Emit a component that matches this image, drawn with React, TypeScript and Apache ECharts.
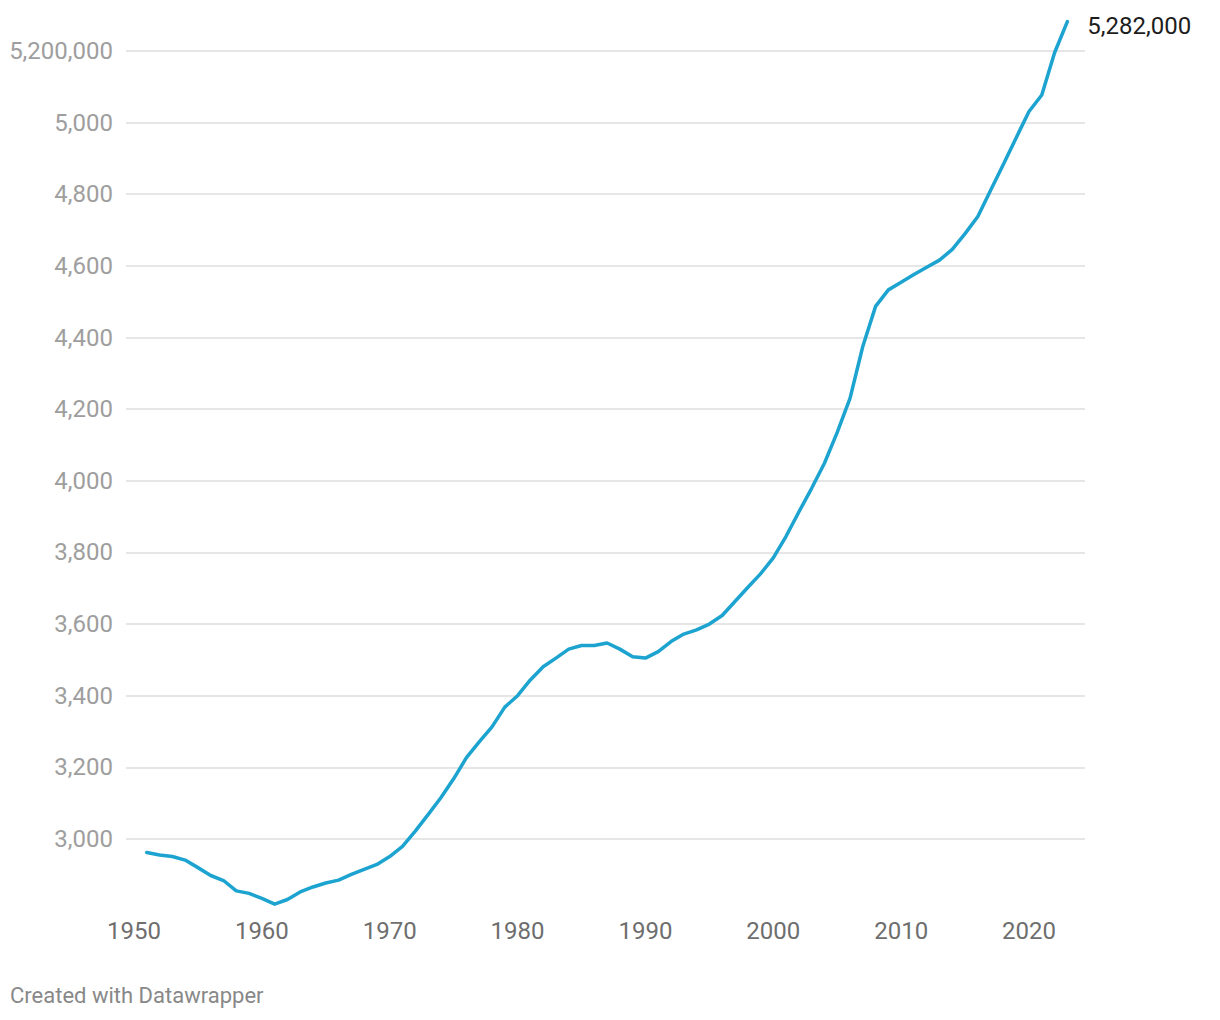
import React, { useEffect, useRef } from "react";
import * as echarts from "echarts";

const years: number[] = [
  1951, 1952, 1953, 1954, 1955, 1956, 1957, 1958, 1959, 1960,
  1961, 1962, 1963, 1964, 1965, 1966, 1967, 1968, 1969, 1970,
  1971, 1972, 1973, 1974, 1975, 1976, 1977, 1978, 1979, 1980,
  1981, 1982, 1983, 1984, 1985, 1986, 1987, 1988, 1989, 1990,
  1991, 1992, 1993, 1994, 1995, 1996, 1997, 1998, 1999, 2000,
  2001, 2002, 2003, 2004, 2005, 2006, 2007, 2008, 2009, 2010,
  2011, 2012, 2013, 2014, 2015, 2016, 2017, 2018, 2019, 2020,
  2021, 2022, 2023,
];

// population in thousands
const population: number[] = [
  2962, 2955, 2951, 2941, 2920, 2898, 2884, 2855, 2848, 2834,
  2818, 2831, 2852, 2866, 2877, 2885, 2901, 2915, 2929, 2951,
  2979, 3022, 3068, 3115, 3168, 3227, 3271, 3313, 3368, 3400,
  3444, 3481, 3505, 3530, 3540, 3540, 3547, 3530, 3509, 3505,
  3523, 3551, 3572, 3584, 3600, 3624, 3663, 3702, 3740, 3785,
  3845, 3913, 3979, 4049, 4135, 4230, 4375, 4487, 4533, 4554,
  4576, 4596, 4616, 4646, 4690, 4738, 4811, 4884, 4958, 5031,
  5077, 5195, 5282,
];

const endLabelText = "5,282,000";
const topTickLabel = "5,200,000";
const footerText = "Created with Datawrapper";

const FONT = "Roboto";

export default function App() {
  const ref = useRef<HTMLDivElement>(null);

  useEffect(() => {
    if (!ref.current) return;
    const chart = echarts.init(ref.current, undefined, { renderer: "svg" });
    const gridTop = 21.6;
    const gridHeight = 889;
    const yMin = 2800;
    const yMax = 5282;

    const option: echarts.EChartsOption = {
      animation: false,
      backgroundColor: "#ffffff",
      textStyle: { fontFamily: FONT },
      grid: [
        { left: 126, width: 959, top: gridTop, height: gridHeight, containLabel: false },
        { left: 134, width: 951, top: gridTop, height: gridHeight, containLabel: false },
      ],
      xAxis: [
        { type: "value", gridIndex: 0, min: 0, max: 1, show: false },
        {
          type: "value",
          gridIndex: 1,
          min: 1950,
          max: 2024.38,
          interval: 10,
          axisLine: { show: false },
          axisTick: { show: false },
          splitLine: { show: false },
          axisLabel: {
            show: true,
            showMaxLabel: false,
            margin: 8,
            color: "#6e6e6e",
            fontSize: 24,
            fontFamily: FONT,
            formatter: (v: number) => (v <= 2020 ? String(v) : ""),
          },
        },
      ],
      yAxis: [
        {
          type: "value",
          gridIndex: 0,
          min: yMin,
          max: yMax,
          interval: 200,
          axisLine: { show: false },
          axisTick: { show: false },
          splitLine: {
            show: true,
            showMinLine: false,
            showMaxLine: false,
            lineStyle: { color: "#e6e6e6", width: 2 },
          },
          axisLabel: {
            show: true,
            showMinLabel: false,
            showMaxLabel: false,
            margin: 13,
            color: "#9e9e9e",
            fontSize: 24,
            fontFamily: FONT,
            formatter: (v: number) =>
              v === 5200 ? topTickLabel : v.toLocaleString("en-US"),
          },
        },
        {
          type: "value",
          gridIndex: 1,
          min: yMin,
          max: yMax,
          show: false,
          splitLine: { show: false },
        },
      ],
      series: [
        {
          type: "line",
          xAxisIndex: 1,
          yAxisIndex: 1,
          data: years.map((y, i) => [y, population[i]]),
          showSymbol: false,
          symbol: "none",
          clip: false,
          lineStyle: { color: "#1ca3d0", width: 3.5, cap: "round", join: "round" },
          endLabel: {
            show: true,
            formatter: () => endLabelText,
            color: "#1d1d1d",
            fontSize: 24,
            fontFamily: FONT,
            distance: 20,
            offset: [0, 4],
          },
        },
      ],
      graphic: [
        {
          type: "text",
          left: 10,
          top: 984,
          style: {
            text: footerText,
            fill: "#888888",
            fontSize: 22,
            fontFamily: FONT,
          },
        },
      ],
    };
    chart.setOption(option);
    return () => chart.dispose();
  }, []);

  return (
    <div
      ref={ref}
      style={{ position: "fixed", left: 0, top: 0, width: 1220, height: 1020 }}
    />
  );
}
